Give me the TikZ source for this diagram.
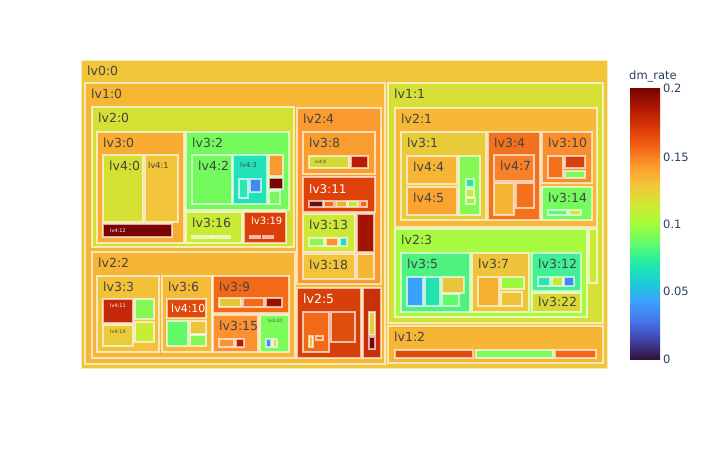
\documentclass[tikz,border=0pt]{standalone}
\usepackage{fontspec}
\setmainfont{DejaVu Sans}
\definecolor{txt}{HTML}{444444}
\definecolor{axis}{HTML}{2A3F5F}
% turbo scale, 0 to 0.2
\definecolor{tb0}{HTML}{30123B}\definecolor{tb1}{HTML}{4145AB}\definecolor{tb2}{HTML}{4675ED}
\definecolor{tb3}{HTML}{39A2FC}\definecolor{tb4}{HTML}{1BCFD4}\definecolor{tb5}{HTML}{24ECA6}
\definecolor{tb6}{HTML}{61FC6C}\definecolor{tb7}{HTML}{A4FC3B}\definecolor{tb8}{HTML}{D1E834}
\definecolor{tb9}{HTML}{F3C63A}\definecolor{tb10}{HTML}{FE9B2D}\definecolor{tb11}{HTML}{F36315}
\definecolor{tb12}{HTML}{D93806}\definecolor{tb13}{HTML}{B11901}\definecolor{tb14}{HTML}{7A0402}
\tikzset{
        tile/.style={draw=white, draw opacity=0.65, line width=1.1pt}, % box border
        lab/.style={anchor=base west, inner sep=0pt, text=txt},
        fs/.style={font=\fontsize{#1}{#1}\selectfont},
        big/.style={fs=12.5, xshift=6pt, yshift=-15pt},
        tick/.style={anchor=west, inner sep=0pt, text=axis, fs=11.5}
        }
\newcommand{\tile}[7][big]{% box with its label
  \definecolor{tc}{HTML}{#6}
  \draw[tile, fill=tc] (#2,#3) rectangle (#4,#5);
  \node[lab,#1] (n#2-#3) at (#2,#3) {#7};}
\newcommand{\blk}[5]{% small box, no readable label
  \definecolor{tc}{HTML}{#5}
  \draw[tile, fill=tc] (#1,#2) rectangle (#3,#4);}
\begin{document}
\begin{tikzpicture}[x=1pt, y=-1pt]
        \fill[white] (0,0) rectangle (709,450);
        \useasboundingbox (0,0) rectangle (709,450);
        \tile{81}{60}{608}{369}{F0C53A}{lv0:0}
        % lv1:0
        \tile{85}{83}{385}{364}{F7B735}{lv1:0}
        \tile{92}{107}{294}{247}{D5E034}{lv2:0}
        \tile{97}{132}{184}{243}{F9AC32}{lv3:0}
        \tile{103}{155}{143}{222}{D5E034}{lv4:0}
        \tile[fs=8.3, xshift=3pt, yshift=-13pt]{145}{155}{178}{222}{F1C43A}{lv4:1}
        \tile[fs=5, text=white, xshift=7pt, yshift=-8pt]{103}{224}{172}{237}{7A0402}{lv4:12}
        \tile{186}{132}{289}{210}{73FB5E}{lv3:2}
        \tile{192}{155}{232}{204}{73FB5E}{lv4:2}
        \tile[fs=6.7, xshift=7pt, yshift=-12pt]{233}{155}{267}{204}{22E2B8}{lv4:3}
        \blk{239}{179}{248}{198}{2EE6B0} \blk{250}{179}{261}{192}{3E8CF0}
        \blk{269}{155}{283}{176}{F89A30} \blk{269}{178}{283}{189}{7A0402} \blk{269}{191}{280}{204}{78F860}
        \tile{186}{212}{242}{243}{C8EC36}{lv3:16}
        \blk{192}{236}{212}{238}{C8EC36} \blk{213}{236}{230}{238}{C8EC36}
        \tile[fs=10, text=white, xshift=7pt, yshift=-12pt]{244}{212}{286}{243}{DC3F08}{lv3:19}
        \blk{250}{236}{260}{238}{DC3F08} \blk{263}{236}{273}{238}{DC3F08}
        \tile{92}{252}{295}{358}{F6B535}{lv2:2}
        \tile{97}{276}{159}{352}{F3C13A}{lv3:3}
        \tile[fs=5, text=white, xshift=7pt, yshift=-8pt]{103}{299}{133}{323}{C3280A}{lv4:11}
        \tile[fs=5, xshift=7pt, yshift=-8pt]{103}{325}{133}{346}{E8CC38}{lv4:14}
        \blk{135}{299}{154}{319}{85F853} \blk{135}{322}{154}{342}{C8EC36}
        \tile{162}{276}{212}{352}{F5BB37}{lv3:6}
        \tile[fs=11, text=white, xshift=4pt, yshift=-13pt]{167}{299}{206}{318}{E24A0C}{lv4:10}
        \blk{167}{321}{188}{346}{62FA6A} \blk{190}{321}{206}{334}{F0C43A} \blk{190}{335}{206}{346}{85F853}
        \tile{213}{276}{289}{313}{F26A18}{lv3:9}
        \blk{219}{298}{241}{307}{E8C638} \blk{243}{298}{264}{307}{F26A18} \blk{266}{298}{282}{307}{9C0E02}
        \tile{213}{315}{258}{352}{FB9130}{lv3:15}
        \blk{219}{339}{234}{347}{FB9130} \blk{236}{339}{244}{347}{B01A01}
        \tile[fs=4.5, xshift=8pt, yshift=-7pt]{260}{315}{289}{352}{7CFB5A}{lv3:20}
        \blk{266}{339}{271}{347}{3E8CF0} \blk{273}{339}{277}{347}{F0D060}
        \tile{297}{108}{381}{284}{FB9A2E}{lv2:4}
        \tile{303}{132}{375}{174}{FA9D2F}{lv3:8}
        \tile[fs=4.5, xshift=6pt, yshift=-7pt]{309}{156}{349}{168}{D5DA35}{lv4:8}
        \blk{351}{156}{368}{168}{B81C02}
        \tile[fs=12, text=white, yshift=-16pt, xshift=6pt]{303}{177}{375}{212}{DE4209}{lv3:11}
        \blk{309}{201}{323}{207}{7A0A04} \blk{324}{201}{334}{207}{F26A18} \blk{336}{201}{347}{207}{F0B030}
        \blk{348}{201}{358}{207}{B8EC36} \blk{360}{201}{367}{207}{F26A18}
        \tile{303}{214}{355}{252}{CDE836}{lv3:13}
        \blk{309}{238}{324}{246}{8CF84F} \blk{326}{238}{338}{246}{FA9230} \blk{340}{238}{347}{246}{22D8C8}
        \blk{357}{214}{374}{252}{A31302}
        \tile{303}{254}{355}{279}{F1C43A}{lv3:18}
        \blk{357}{254}{374}{279}{F6B535}
        \tile[big, text=white]{297}{288}{361}{358}{D8400A}{lv2:5}
        \blk{303}{312}{329}{352}{F26A18} \blk{331}{312}{355}{342}{E04E0E}
        \blk{309}{336}{313}{347}{F0C43A} \blk{316}{336}{323}{340}{F26A18}
        \blk{363}{288}{381}{358}{C9300A} \blk{369}{312}{375}{335}{E0D040} \blk{369}{337}{375}{349}{7A0402}
        % lv1:1
        \tile{388}{83}{603}{323}{D6DF36}{lv1:1}
        \tile{395}{108}{597}{227}{F6B836}{lv2:1}
        \tile{401}{132}{486}{220}{E9CB39}{lv3:1}
        \tile{407}{156}{457}{184}{F7B535}{lv4:4}
        \tile{407}{187}{457}{215}{FCA430}{lv4:5}
        \blk{459}{156}{480}{215}{85F853} \blk{466}{179}{474}{187}{30E4A0}
        \blk{466}{189}{474}{197}{C8EC36} \blk{466}{198}{475}{204}{A8F040}
        \tile{488}{132}{540}{220}{F3701C}{lv3:4}
        \tile{494}{155}{534}{181}{F6812A}{lv4:7}
        \blk{494}{183}{514}{215}{F6B535} \blk{516}{183}{534}{208}{F3701C}
        \tile{542}{132}{592}{183}{FA8E2D}{lv3:10}
        \blk{548}{156}{563}{178}{F3701C} \blk{565}{156}{585}{168}{D8400A} \blk{565}{171}{585}{178}{7CFB5A}
        \tile{542}{187}{592}{220}{74FB5D}{lv3:14}
        \blk{548}{210}{567}{215}{5AF880} \blk{569}{210}{581}{215}{C8EC36}
        \tile{395}{229}{587}{317}{A6FA3F}{lv2:3}
        \blk{589}{229}{597}{283}{C8EC36}
        \tile{401}{253}{470}{312}{4EF37F}{lv3:5}
        \blk{407}{277}{423}{306}{39A2FC} \blk{425}{277}{440}{306}{24E2B0}
        \blk{442}{277}{464}{293}{E8C638} \blk{442}{294}{459}{306}{62FA6A}
        \tile{472}{253}{529}{312}{EFC33A}{lv3:7}
        \blk{478}{277}{499}{306}{F8B032} \blk{501}{277}{524}{289}{9CF840} \blk{501}{292}{522}{306}{F0C43A}
        \tile{532}{253}{581}{291}{40F094}{lv3:12}
        \blk{538}{277}{550}{286}{2EE4A8} \blk{552}{277}{563}{286}{C8E838} \blk{564}{277}{574}{286}{3E8CF0}
        \tile[fs=12.5, xshift=6pt, yshift=-13pt]{532}{293}{581}{312}{D9D936}{lv3:22}
        % lv1:2
        \tile{388}{326}{603}{363}{F6B535}{lv1:2}
        \blk{395}{350}{473}{358}{E24A0C} \blk{476}{350}{553}{358}{7CFB5A} \blk{555}{350}{596}{358}{F3661A}
        % colour bar
        \foreach \i in {0,...,13}{
          \pgfmathtruncatemacro\j{\i+1}
          \shade[bottom color=tb\i, top color=tb\j] (630,{359-\i*270/14}) rectangle (660,{359-\j*270/14-0.3});
        }
        \node[lab, text=axis, fs=11.5] (cbtitle) at (629,79) {dm\_rate};
        \node[tick] (cb4) at (663,88) {0.2};
        \node[tick] (cb3) at (663,157) {0.15};
        \node[tick] (cb2) at (663,224) {0.1};
        \node[tick] (cb1) at (663,291) {0.05};
        \node[tick] (cb0) at (663,359) {0};
\end{tikzpicture}
\end{document}
